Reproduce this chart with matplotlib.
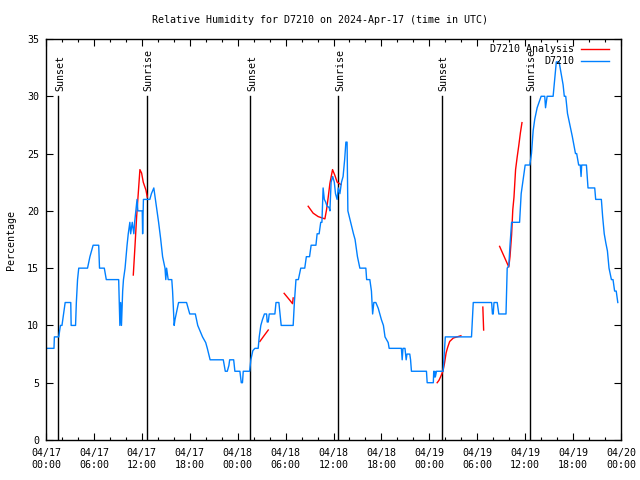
import numpy as np
import matplotlib
matplotlib.use("Agg")
import matplotlib.pyplot as plt

plt.rcParams['font.family'] = ['DejaVu Sans Mono']
FS = 7.2

title = "Relative Humidity for D7210 on 2024-Apr-17 (time in UTC)"
ylabel = "Percentage"

# hours since 2024-04-17 00:00 UTC
obs_hours = [0, 1.0, 1.05, 1.6, 1.8, 2.0, 2.2, 2.4, 3.1, 3.15, 3.7, 3.8, 3.95, 4.1, 5.2, 5.5, 5.9, 6.6,
             6.7, 7.3, 7.55, 9.1, 9.25, 9.35, 9.45, 9.6, 9.7, 9.9, 10.15, 10.3, 10.5, 10.6, 10.7, 10.8,
             11.0, 11.1, 11.25, 11.4, 11.5, 11.6, 12.05, 12.1, 12.2, 13.0, 13.2, 13.5, 13.7, 13.9, 14.1,
             14.35, 14.6, 14.9, 15.0, 15.1, 15.3, 15.75, 15.85, 16.05, 16.15, 16.3, 16.6, 17.6, 17.8,
             18.0, 18.7, 19.0, 19.3, 19.6, 20.0, 20.2, 20.55, 22.2, 22.45, 22.7, 22.9, 23.0, 23.5, 23.65,
             24.28, 24.45, 24.6, 24.7, 25.3, 25.5, 25.65, 25.9, 26.16, 26.57, 26.7, 26.9, 27.1, 27.35,
             27.62, 27.7, 27.83, 27.95, 28.66, 28.8, 29.16, 29.3, 29.45, 30.95, 31.1, 31.3, 31.6, 31.9,
             32.4, 32.6, 33.0, 33.2, 33.8, 33.95, 34.2, 34.4, 34.55, 34.7, 34.85, 35.0, 35.2, 35.45,
             35.55, 35.7, 35.9, 36.1, 36.25, 36.45, 36.6, 36.8, 37.0, 37.2, 37.4, 37.55, 37.7, 37.8,
             38.15, 38.5, 38.7, 39.0, 39.3, 40.05, 40.15, 40.55, 40.75, 40.9, 41.05, 41.3, 41.6, 41.8,
             42.0, 42.25, 42.45, 42.85, 42.97, 44.5, 44.6, 44.7, 44.95, 45.1, 45.2, 45.55, 45.65, 45.76,
             47.64, 47.73, 48.5, 48.55, 48.6, 48.7, 48.75, 48.9, 49.73, 50.0, 50.15, 50.5, 50.8, 53.28,
             53.5, 53.7, 55.8, 55.9, 56.0, 56.1, 56.5, 56.7, 57.6, 57.75, 57.95, 58.1, 58.3, 59.3, 59.5,
             59.8, 60.0, 60.58, 60.79, 61.0, 61.2, 61.5, 62.0, 62.45, 62.55, 62.75, 63.5, 63.7, 63.9,
             64.25, 64.5, 64.75, 64.9, 65.08, 65.3, 65.6, 65.9, 66.3, 66.45, 66.7, 66.9, 67.0, 67.08,
             67.67, 67.87, 68.71, 68.83, 69.54, 69.7, 69.9, 70.1, 70.3, 70.5, 70.8, 71.0, 71.2, 71.4, 71.6]
obs_rh = [8, 8, 9, 9, 10, 10, 11, 12, 12, 10, 10, 12, 14, 15, 15, 16, 17, 17,
          15, 15, 14, 14, 10, 12, 10, 13, 14, 15, 17, 18, 19, 18, 18.5, 19,
          18, 19, 20, 21, 20, 20, 20, 18, 21, 21, 21.5, 22, 21, 20, 19,
          17.6, 16, 15, 14, 15, 14, 14, 13, 10, 10.5, 11, 12, 12, 11.5,
          11, 11, 10, 9.5, 9, 8.5, 8, 7, 7, 6, 6, 6.5, 7, 7, 6,
          6, 5, 5, 6, 6, 6, 7, 7.8, 8, 8, 9, 10, 10.5, 11,
          11, 10.3, 10.3, 11, 11, 12, 12, 11, 10, 10, 12, 14, 14, 15,
          15, 16, 16, 17, 17, 18, 18, 19, 19, 22, 21, 20.8, 20.4, 20.3,
          20, 22.5, 23, 22.5, 21.5, 21, 22, 21.5, 22.5, 23, 24.5, 26, 26, 20,
          19, 18, 17.5, 16, 15, 15, 14, 14, 13, 11, 12, 12, 11.5, 11,
          10.5, 10, 9, 8.5, 8, 8, 7, 8, 8, 7, 7.5, 7.5, 7, 6,
          6, 5, 5, 6, 5.5, 6, 5.5, 6, 6, 9, 9, 9, 9, 9,
          12, 12, 12, 11, 11, 12, 12, 11, 11, 15, 15.2, 17, 19, 19, 21.5,
          23, 24, 24, 25, 27, 28, 29, 30, 30, 29, 30, 30, 31.5, 33,
          33, 32, 31, 30, 30, 28.5, 27.5, 26.5, 25, 25, 24, 24, 23, 24,
          24, 22, 22, 21, 21, 19.5, 18, 17.2, 16.5, 15, 14, 14, 13, 13, 12]

# analysis segments (NaN separates segments)
nan = np.nan
ana_hours = [10.93, 11.14, 11.35, 11.55, 11.76, 11.97, 12.18, 12.52, 12.68, nan,
             26.78, 27.3, 27.83, nan,
             29.82, 30.53, 30.87, 30.95, nan,
             32.83, 33.45, 34.08, 34.92, 35.13, 35.34, 35.55, 35.88, 36.17, 36.46, 36.92, nan,
             48.98, 49.2, 49.4, 49.7, 49.9, 50.1, 50.3, 50.55, 51.0, 51.95, nan,
             54.7, 54.8, nan,
             56.8, 57.95, 58.1, 58.3, 58.45, 58.6, 58.8, 59.0, 59.2, 59.4, 59.6]
ana_rh = [14.4, 16.9, 19.5, 21.5, 23.6, 23.3, 22.5, 21.8, 21.2, nan,
          8.6, 9.1, 9.6, nan,
          12.8, 12.2, 11.9, 12.4, nan,
          20.4, 19.8, 19.5, 19.3, 20.1, 21.2, 22.4, 23.6, 23.1, 22.5, 22.3, nan,
          5.0, 5.2, 5.5, 6.0, 6.7, 7.6, 8.1, 8.6, 8.9, 9.1, nan,
          11.6, 9.6, nan,
          16.9, 15.1, 16.0, 17.9, 20.1, 21.2, 23.6, 24.7, 25.7, 26.8, 27.7]

sun_hours = [1.55, 12.68, 25.6, 36.6, 49.6, 60.6]
sun_labels = ["Sunset", "Sunrise", "Sunset", "Sunrise", "Sunset", "Sunrise"]

tick_hours = list(range(0, 73, 6))
tick_labels = ["04/17\n00:00", "04/17\n06:00", "04/17\n12:00", "04/17\n18:00",
               "04/18\n00:00", "04/18\n06:00", "04/18\n12:00", "04/18\n18:00",
               "04/19\n00:00", "04/19\n06:00", "04/19\n12:00", "04/19\n18:00",
               "04/20\n00:00"]

fig = plt.figure(figsize=(6.4, 4.8), dpi=100)
ax = fig.add_axes([46/640, 40/480, 575/640, 401/480])

for h, lab in zip(sun_hours, sun_labels):
    ax.plot([h, h], [0, 30], color='black', lw=1.0)
    ax.text(h + 0.2, 30.5, lab, rotation=90, ha='center', va='bottom', fontsize=FS)

ax.plot(ana_hours, ana_rh, color='#ff0000', lw=1.0, label='D7210 Analysis')
ax.plot(obs_hours, obs_rh, color='#0080ff', lw=1.0, label='D7210')

ax.set_xlim(0, 72)
ax.set_ylim(0, 35)
ax.set_xticks(tick_hours)
ax.set_xticklabels(tick_labels, fontsize=FS)
ax.set_xticks(np.arange(0, 73, 2), minor=True)
ax.set_yticks(range(0, 36, 5))
ax.tick_params(axis='y', labelsize=FS, pad=5)
ax.tick_params(axis='x', pad=6)
ax.tick_params(which='both', direction='in', top=True, right=True)
ax.tick_params(which='major', length=5, width=0.8)
ax.tick_params(which='minor', length=2.5, width=0.8)
fig.text(0.5, 1 - 20/480, title, ha='center', va='center', fontsize=FS)
ax.set_ylabel(ylabel, fontsize=FS, labelpad=8)
for s in ax.spines.values():
    s.set_linewidth(1.0)

ax.legend(loc='upper right', bbox_to_anchor=((609 - 46) / 575, (440 - 44.5) / 401),
          frameon=False, markerfirst=False, fontsize=FS,
          handlelength=2.8, labelspacing=0.18, borderaxespad=0, borderpad=0,
          handletextpad=0.7)

fig.savefig("out.png", dpi=100)
